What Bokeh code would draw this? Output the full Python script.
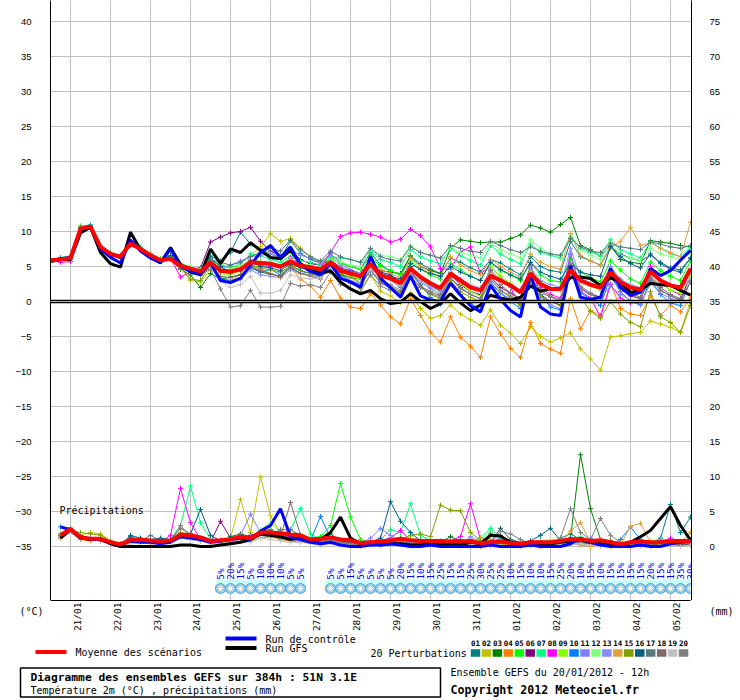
import math
from bokeh.plotting import figure
from bokeh.models import Range1d, LinearAxis, FixedTicker, Span, Label
from bokeh.layouts import column
from bokeh.embed import file_html
from bokeh.resources import INLINE
from bokeh.core.properties import value

# ---------------- data ----------------
STEP_HOURS = list(range(0, 385, 6))      # 20/01 12h + 0..384h
PRECIP_HOURS = STEP_HOURS[1:]

DATE_LABELS = ["21/01", "22/01", "23/01", "24/01", "25/01", "26/01", "27/01", "28/01",
               "29/01", "30/01", "31/01", "01/02", "02/02", "03/02", "04/02", "05/02"]
DATE_HOURS = [12, 36, 60, 84, 108, 132, 156, 180, 204, 228, 252, 276, 300, 324, 348, 372]
TEMP_TICKS = [-35, -30, -25, -20, -15, -10, -5, 0, 5, 10, 15, 20, 25, 30, 35, 40]
MM_TICKS = [0, 5, 10, 15, 20, 25, 30, 35, 40, 45, 50, 55, 60, 65, 70, 75]

# ensemble mean / control / GFS temperature (°C)
MEAN_T = [5.9,6.0,6.2,10.4,10.7,7.8,6.8,6.4,8.3,7.5,6.6,5.9,6.1,5.1,4.7,4.3,5.6,4.4,4.3,4.6,5.6,5.5,5.4,5.0,5.7,
          5.1,4.9,4.6,5.6,4.4,4.0,3.6,5.4,3.7,3.3,2.6,4.7,3.5,2.6,1.9,4.0,3.0,2.0,1.6,3.7,3.0,2.3,1.3,4.0,
          2.5,1.8,1.8,4.5,3.0,2.4,2.0,4.2,2.8,2.0,1.7,4.3,3.0,2.3,2.0,4.7]
CTRL_T = [5.8,6.1,6.3,10.2,10.8,7.5,6.3,5.5,8.8,7.2,6.2,5.6,7.5,5.0,4.3,3.9,5.5,3.0,2.7,3.3,5.2,7.0,8.0,6.3,7.8,
          5.2,4.3,3.8,5.5,3.3,2.8,2.0,6.5,3.3,2.0,0.6,3.6,0.8,0.2,0.0,2.6,0.9,-0.6,-1.5,2.3,0.3,-1.3,-2.2,4.0,
          -0.8,-1.8,-2.0,5.1,0.6,0.3,0.6,4.7,2.0,0.9,1.3,4.7,3.7,4.4,5.9,7.3]
GFS_T = [5.7,6.0,6.0,9.8,10.6,7.0,5.4,4.9,9.9,7.4,6.3,5.5,7.7,5.3,4.2,3.8,7.5,5.4,7.5,7.0,8.4,7.3,6.3,6.1,7.3,
         5.4,4.5,4.0,4.4,2.8,1.8,1.1,1.6,0.4,-0.3,-0.1,1.1,0.0,-1.0,-0.3,1.1,-0.2,-1.3,-0.5,0.9,0.5,0.2,0.6,2.2,
         1.5,1.8,1.9,3.4,3.5,3.3,2.3,3.4,2.7,1.3,1.6,2.6,2.4,2.3,1.6,0.9]

# 20 perturbations, temperature (°C)
T01 = [5.8,6.2,6.4,10.4,10.9,7.9,6.8,6.5,8.6,7.4,6.5,6.0,6.4,
       5.3,4.9,4.5,6.5,5.8,7.0,9.9,8.2,7.5,6.8,6.2,8.7,
       6.9,6.0,5.5,6.8,5.6,5.0,4.6,7.0,5.2,4.4,3.8,6.5,
       5.4,4.6,4.0,6.2,5.6,4.8,4.2,6.0,5.5,4.6,3.8,6.4,
       5.0,4.4,4.2,8.6,6.4,5.8,5.2,7.8,6.8,6.2,5.8,6.6,5.6,4.8,4.5,6.2]
T02 = [6.0,6.2,6.0,10.6,10.5,7.6,6.6,6.2,8.0,7.6,6.8,6.1,6.0,
       4.8,3.0,2.8,4.6,3.4,3.0,3.8,6.5,7.8,9.7,8.6,9.0,
       7.6,6.4,5.6,6.2,3.6,2.6,1.8,3.8,1.5,0.8,-0.2,1.2,
       -1.0,-2.4,-2.0,-0.5,-1.8,-2.6,-3.4,-1.2,-3.4,-4.5,-6.0,-3.6,
       -5.0,-5.8,-5.2,-4.5,-6.8,-8.2,-9.8,-5.1,-4.9,-4.6,-4.4,-2.8,-3.2,-3.7,-4.4,0.1]
T03 = [5.7,6.0,6.2,10.3,10.6,7.7,6.9,6.6,8.2,7.3,6.4,5.7,6.0,
       4.6,3.8,2.0,4.0,3.2,3.5,3.8,5.0,4.2,3.9,3.6,5.2,
       4.4,4.0,3.6,5.0,3.8,3.4,3.2,5.2,4.4,4.2,4.0,6.5,
       5.0,4.4,4.0,7.6,8.8,8.6,8.4,8.5,8.5,9.0,9.5,10.9,
       10.5,9.9,11.0,12.0,8.0,7.4,6.5,8.0,6.0,5.6,5.4,8.7,8.5,8.3,8.0,7.8]
T04 = [6.0,6.1,6.4,10.6,10.9,7.9,6.7,6.3,8.4,7.6,6.7,6.0,6.2,
       5.0,4.5,4.0,5.4,4.2,4.0,4.3,5.2,4.6,4.0,3.4,4.9,
       3.2,2.2,0.6,3.0,0.5,-0.8,-1.0,1.1,-0.5,-2.2,-3.2,0.4,
       -2.0,-4.4,-5.8,-2.2,-5.1,-6.4,-8.0,-2.2,-4.6,-6.7,-8.0,-3.0,
       -6.0,-6.8,-7.4,0.4,-3.9,-1.3,-2.0,2.6,-1.0,-1.8,-2.0,0.8,-2.0,-0.5,-1.5,0.5]
T05 = [5.9,6.2,6.3,10.8,10.9,8.0,7.0,6.5,8.5,7.7,6.8,6.1,6.3,
       5.4,4.9,4.5,5.9,5.2,4.9,5.0,6.0,5.7,5.6,5.2,6.1,
       5.4,5.0,4.6,6.2,5.4,5.0,4.6,6.4,5.0,4.4,3.8,5.8,
       4.6,3.8,3.2,5.4,4.5,3.6,3.0,5.6,4.4,3.8,3.0,5.6,
       3.8,3.0,2.8,6.0,4.2,3.4,2.8,5.8,4.5,3.2,2.6,5.6,4.4,3.6,3.0,5.8]
T06 = [5.8,6.0,6.1,10.2,10.6,7.7,6.6,6.2,8.1,7.4,6.5,5.8,6.0,
       5.0,4.6,4.8,8.5,9.2,9.8,10.0,10.6,8.6,7.2,6.5,7.4,
       6.0,5.4,5.2,6.0,4.8,4.4,4.0,6.0,4.2,3.8,2.8,5.0,
       3.4,2.2,1.5,3.8,2.4,1.4,1.0,3.5,2.0,1.2,0.3,5.2,
       1.0,0.0,-0.5,6.8,1.8,1.0,0.6,4.0,2.0,0.8,0.4,3.5,1.6,0.8,0.2,3.8]
T07 = [5.9,6.3,6.5,10.6,11.0,8.0,6.9,6.5,8.4,7.8,6.8,6.0,6.3,
       5.4,5.0,4.6,6.0,5.0,4.8,5.4,6.8,6.5,6.0,5.6,6.5,
       5.8,5.6,5.2,6.4,6.2,6.0,5.6,7.2,6.0,5.6,5.0,7.4,
       6.4,5.8,5.4,7.6,6.6,5.8,5.2,8.0,6.8,6.0,5.4,8.2,
       7.0,6.6,6.2,9.2,7.6,7.0,6.6,8.8,7.4,6.8,6.2,8.6,7.6,6.8,6.4,7.8]
T08 = [6.0,5.6,5.7,10.5,10.8,7.9,6.8,6.3,8.4,7.6,6.6,5.8,6.2,
       3.5,4.2,4.5,5.8,4.6,4.0,4.4,5.5,5.2,5.0,4.8,6.2,
       5.4,5.0,4.8,7.0,9.3,9.8,9.9,9.6,9.2,8.5,8.9,10.3,
       9.4,7.8,4.7,4.6,7.1,7.8,4.0,5.0,3.5,2.0,-0.6,4.8,
       2.0,1.0,0.5,5.0,1.5,0.5,-2.2,2.4,0.5,-0.2,0.0,5.0,2.8,1.6,1.0,4.5]
T09 = [5.8,6.1,6.3,10.5,10.7,7.8,6.8,6.4,8.2,7.5,6.7,6.0,6.1,
       5.2,4.5,4.0,5.5,4.0,3.8,4.5,5.2,5.0,5.3,4.9,5.5,
       5.0,4.8,4.2,5.8,4.2,3.6,3.2,5.6,3.6,3.2,2.2,4.8,
       3.0,2.0,1.2,4.2,2.6,1.4,0.8,5.0,3.6,2.6,1.6,4.4,
       2.8,2.0,1.5,4.6,3.0,2.2,1.6,4.8,3.2,2.0,1.4,4.6,2.8,1.6,1.2,3.6]
T10 = [6.0,6.2,6.4,10.4,10.7,7.6,6.5,6.2,8.0,7.3,6.4,5.7,6.0,
       4.9,4.2,3.8,5.0,3.2,3.0,3.4,4.8,4.2,4.6,3.8,5.0,
       4.0,4.2,3.6,5.6,3.8,3.0,2.4,4.4,2.8,1.8,0.8,4.0,
       2.4,0.6,-0.4,3.0,1.0,-0.2,-1.2,2.8,1.2,0.0,-1.0,3.6,
       1.0,-0.8,-1.2,4.0,1.2,0.4,-0.6,3.6,1.4,0.0,-0.5,3.2,1.0,-0.2,-0.6,3.0]
T11 = [5.9,6.0,6.2,10.6,10.9,7.9,6.9,6.5,8.3,7.6,6.6,5.9,6.2,
       5.1,4.8,4.4,5.4,4.8,5.2,5.8,6.4,6.6,6.8,6.4,7.4,
       6.6,6.2,5.6,6.6,5.2,4.6,4.0,5.8,3.8,3.0,2.0,4.2,
       2.8,1.8,1.0,3.4,2.0,1.0,0.4,2.6,1.2,0.4,-0.6,2.8,
       0.6,-0.5,-1.0,6.8,2.0,1.0,0.4,2.2,1.0,0.2,-0.4,2.6,1.2,0.4,0.0,2.8]
T12 = [6.0,6.2,6.3,10.5,10.8,7.8,6.7,6.4,8.3,7.5,6.7,6.0,6.2,
       5.3,5.0,4.6,5.8,4.8,4.4,5.0,5.8,5.6,5.4,5.2,6.0,
       5.4,5.2,4.8,6.0,5.6,5.2,5.0,7.6,6.6,6.4,6.0,8.0,
       7.0,6.6,6.2,7.8,7.0,6.6,6.2,8.4,7.4,6.8,6.2,8.8,
       7.6,6.8,6.4,9.6,7.4,6.6,6.0,8.4,6.6,6.2,5.8,7.6,6.8,6.4,6.0,7.0]
T13 = [5.9,6.1,6.2,10.4,10.6,7.7,6.7,6.3,8.2,7.4,6.5,5.8,6.0,
       5.0,4.4,4.0,5.2,3.0,2.8,3.2,4.5,3.8,3.6,3.4,4.5,
       4.0,3.8,3.4,5.0,3.4,3.0,2.6,4.8,3.2,2.4,1.6,4.0,
       3.0,2.2,1.6,4.2,3.2,2.4,1.8,4.6,3.0,2.0,1.4,4.8,
       3.0,2.4,2.0,7.6,3.4,2.6,2.0,5.0,3.2,2.4,2.0,4.6,3.0,2.4,2.0,4.4]
T14 = [5.9,6.0,6.2,10.6,10.8,7.9,6.8,6.4,8.4,7.6,6.7,6.0,6.2,
       5.2,4.6,4.2,5.6,4.6,4.4,4.8,6.0,5.6,5.2,4.8,5.8,
       5.2,4.8,4.4,5.4,4.4,4.0,3.8,5.8,4.6,4.0,3.4,6.2,
       5.0,4.2,3.6,6.4,5.2,4.4,3.8,6.0,5.0,4.2,3.4,6.8,
       5.6,5.0,4.6,9.7,6.6,5.8,5.2,7.6,8.6,10.6,8.0,8.4,7.6,7.0,6.4,11.3]
T15 = [5.8,6.0,6.1,10.3,10.6,7.7,6.7,6.3,8.2,7.4,6.5,5.8,6.0,
       4.8,3.2,3.0,5.2,4.2,4.0,4.4,5.2,4.8,4.5,4.2,5.0,
       4.4,4.0,3.6,5.2,4.0,3.4,2.8,5.0,3.0,2.2,1.4,3.6,
       2.0,1.0,0.4,3.0,1.4,0.6,0.0,3.2,1.6,0.6,-0.4,2.6,
       0.8,0.0,-0.6,4.4,0.6,-1.4,-2.4,0.0,-1.8,-3.0,-3.6,1.4,-2.2,-3.0,-4.4,-0.6]
T16 = [5.9,6.1,6.3,10.5,10.7,7.8,6.8,6.4,8.6,7.5,6.6,5.9,6.6,
       5.2,4.6,4.2,6.2,5.0,4.2,4.5,5.8,5.0,4.8,4.4,5.4,
       4.8,4.6,4.2,5.6,4.4,4.0,3.6,5.2,4.0,3.6,3.2,5.4,
       4.6,4.0,3.6,5.0,4.2,3.6,3.0,5.6,4.6,3.8,3.2,5.6,
       4.2,3.6,3.2,5.4,4.2,3.8,3.6,7.8,6.4,5.4,4.8,6.8,5.4,4.6,4.2,6.2]
T17 = [6.0,6.2,6.3,10.6,10.8,7.8,6.8,6.5,8.3,7.6,6.6,5.9,6.1,
       5.0,4.6,4.2,6.0,5.6,5.2,5.6,6.4,7.0,7.6,7.2,8.8,
       7.4,6.4,5.8,7.2,6.4,6.0,5.6,7.6,6.4,6.0,5.8,7.8,
       7.0,6.6,6.2,8.0,7.6,7.2,7.0,8.6,8.0,7.4,7.0,7.8,
       7.2,6.8,6.6,9.0,7.8,7.2,7.0,8.3,7.8,7.6,7.4,8.5,8.2,7.8,7.6,8.0]
T18 = [5.8,6.0,6.2,10.4,10.6,7.6,6.6,6.2,8.1,7.4,6.5,5.8,6.0,
       4.9,4.3,3.9,5.0,3.6,3.4,3.8,5.0,4.4,4.0,3.6,4.8,
       4.0,3.6,3.2,5.0,3.2,2.6,2.2,4.6,2.6,2.0,1.2,4.6,
       2.2,1.4,0.8,3.4,2.0,1.0,0.4,4.4,2.4,1.2,0.4,3.0,
       1.4,0.6,0.2,5.4,2.2,1.2,0.6,4.0,2.2,1.2,0.6,3.8,2.0,1.0,0.4,2.8]
T19 = [5.9,6.0,6.2,10.4,10.6,7.7,6.7,6.3,8.2,7.4,6.5,5.8,6.0,
       4.9,4.4,4.0,5.0,3.0,2.0,2.4,3.6,1.2,1.2,1.6,3.8,
       3.4,3.2,3.4,4.6,3.2,3.0,2.8,4.6,3.4,3.0,2.6,4.4,
       3.2,2.6,2.2,4.0,3.0,2.4,2.0,3.6,2.8,2.2,1.8,3.8,
       2.6,2.0,1.6,4.0,2.6,2.2,1.8,3.8,2.6,2.2,1.8,3.6,2.6,2.2,1.8,3.2]
T20 = [5.8,6.0,6.1,10.5,10.8,7.8,6.7,6.3,8.2,7.5,6.6,5.9,6.1,
       4.8,4.2,3.8,4.6,1.8,-0.8,-0.6,1.6,-0.8,-0.8,-0.7,2.6,
       2.2,2.4,2.0,4.2,2.4,1.8,1.4,3.8,2.2,1.6,1.0,3.6,
       2.0,1.2,0.6,3.4,1.8,1.0,0.4,3.2,1.6,0.8,0.2,3.4,
       1.6,0.8,0.2,5.4,1.8,1.0,0.4,3.6,1.8,1.0,0.4,3.4,1.6,0.8,0.2,2.8]

# precipitation (mm / 6h), from +6h to +384h
MEAN_P = [1.6,2.5,1.3,1.1,1.1,0.6,0.3,0.95,0.95,0.86,0.8,0.86,1.7,1.6,1.3,0.8,
          0.9,1.05,1.4,1.2,2.0,2.0,1.9,1.7,1.6,1.0,1.1,1.3,1.0,0.9,0.5,0.6,
          0.7,0.86,1.1,0.9,0.8,0.8,0.8,0.7,0.8,0.7,0.5,0.6,0.7,0.5,0.4,0.6,
          0.6,0.6,0.8,1.05,1.05,0.8,0.9,0.6,0.3,0.6,0.7,0.6,0.6,0.8,0.8,0.8]
CTRL_P = [2.8,2.4,1.4,1.0,1.0,0.6,0.2,0.8,0.6,0.6,0.4,0.6,1.4,1.2,1.0,0.6,
          0.8,1.0,1.2,1.0,2.2,3.0,5.4,1.4,1.0,0.6,0.4,0.6,0.2,0.0,0.0,0.2,
          0.2,0.4,0.2,0.0,0.0,0.2,0.0,0.0,0.0,0.0,0.0,0.2,0.0,0.0,0.0,0.2,
          0.0,0.0,0.0,0.4,1.2,0.6,0.2,0.0,0.0,0.0,0.2,0.0,0.0,0.4,0.6,0.8]
GFS_P = [1.2,2.4,1.2,1.0,1.0,0.4,0.0,0.0,0.0,0.0,0.0,0.0,0.2,0.2,0.0,0.0,
         0.2,0.4,0.6,1.0,1.8,1.6,1.4,1.0,1.2,0.8,1.0,2.0,4.2,1.2,0.4,0.6,
         0.2,0.4,0.4,0.2,0.2,0.4,0.2,0.4,0.2,0.6,0.4,1.6,1.5,0.6,0.4,0.2,
         0.2,0.4,0.6,0.8,1.0,0.6,0.4,0.2,0.0,0.6,1.4,2.3,4.0,5.7,3.0,0.9]

P01 = [1.5,2.4,1.2,1.0,1.2,0.5,0.2,1.4,0.9,0.8,0.6,0.8,1.5,1.2,1.0,0.6,
       0.8,1.0,1.2,1.0,1.8,1.6,2.0,1.4,1.2,0.8,0.6,1.0,0.8,0.4,0.2,0.4,
       0.4,0.6,0.8,0.6,0.4,0.6,0.4,0.6,0.4,0.8,0.6,0.4,0.6,0.2,0.4,0.6,
       0.8,0.4,1.2,1.8,1.0,0.6,0.4,0.8,0.2,0.4,0.6,0.4,1.2,6.0,2.0,4.2]
P02 = [1.8,2.6,1.6,2.0,1.8,0.8,0.2,0.6,0.6,0.8,0.6,0.8,2.0,1.8,1.2,0.6,
       0.8,1.2,6.7,2.0,9.9,4.4,1.8,1.0,0.8,0.4,0.6,1.0,0.6,0.8,0.4,0.2,
       0.6,0.6,0.8,0.4,0.2,0.4,0.6,0.2,0.4,0.6,0.2,0.2,0.4,0.2,0.0,0.2,
       0.2,0.4,0.2,0.6,0.8,0.4,0.2,0.0,0.0,0.4,0.2,0.0,0.2,0.4,0.0,0.2]
P03 = [1.4,2.2,1.2,1.0,0.8,0.6,0.2,0.6,0.8,0.8,0.4,0.6,1.4,1.4,0.8,0.6,
       0.6,1.4,1.8,1.4,2.2,2.4,1.6,1.2,1.6,1.0,0.6,1.8,0.8,0.4,0.2,0.4,
       0.6,1.0,1.2,0.8,1.0,0.8,0.6,1.4,0.8,0.6,1.2,0.6,0.8,0.4,0.2,0.2,
       0.4,0.6,0.8,1.2,13.1,5.4,1.0,0.8,0.4,0.2,0.6,0.4,0.2,0.4,0.6,0.8]
P04 = [1.2,2.0,1.0,0.8,1.0,0.4,0.2,0.4,0.6,0.4,0.6,0.8,1.2,1.0,0.8,0.6,
       0.8,0.6,1.0,0.8,1.2,1.4,1.0,0.8,0.6,0.6,0.4,0.8,0.4,0.2,0.0,0.2,
       0.2,0.4,0.4,0.2,0.2,0.4,0.2,0.2,0.0,0.2,0.0,0.2,0.2,0.0,0.0,0.2,
       0.0,0.0,0.2,0.4,0.2,0.0,0.2,0.4,0.0,0.0,0.2,0.0,0.2,0.2,0.0,0.4]
P05 = [1.6,2.4,1.4,1.2,1.0,0.6,0.4,0.8,1.0,0.6,0.8,1.0,1.8,1.4,1.2,0.8,
       1.0,1.2,1.4,1.2,2.0,2.2,1.6,1.8,1.4,1.2,1.4,3.0,9.0,4.2,1.0,0.6,
       0.8,1.2,1.0,0.6,0.8,0.6,0.4,0.6,0.8,0.6,0.4,0.8,0.6,0.4,0.2,0.6,
       0.6,0.4,0.6,1.2,0.8,0.6,1.0,0.6,0.4,0.2,0.6,0.4,0.6,0.8,0.4,0.6]
P06 = [1.4,2.2,1.2,1.2,1.0,0.6,0.2,0.8,0.8,0.6,0.6,0.8,1.6,1.4,1.0,0.6,
       3.6,1.2,1.0,1.6,2.0,1.8,1.4,1.2,1.4,0.8,0.8,1.0,0.6,0.4,0.2,0.4,
       0.4,0.6,0.6,0.4,0.4,0.6,0.8,0.4,0.6,1.0,0.6,0.4,0.4,0.2,0.4,0.6,
       0.4,0.6,0.4,0.8,0.6,0.4,0.2,0.6,0.4,0.2,0.4,0.2,0.4,0.6,0.2,0.4]
P07 = [1.8,2.6,1.4,1.2,1.2,0.6,0.4,1.0,1.0,0.8,0.8,1.0,3.0,8.6,3.4,1.0,
       0.8,1.0,1.2,1.4,2.2,2.0,1.8,2.4,5.4,1.8,1.0,1.4,0.8,0.6,0.4,0.8,
       1.0,2.4,2.0,6.1,1.6,0.8,0.6,0.8,0.4,0.8,1.2,2.6,1.0,0.6,0.4,0.6,
       0.8,0.6,0.8,1.0,1.2,0.8,0.4,0.6,0.4,0.2,0.4,0.6,1.0,0.8,0.6,0.8]
P08 = [1.6,2.4,1.4,1.0,1.2,0.6,0.2,0.8,1.0,0.8,0.6,1.6,8.3,3.4,1.0,0.6,
       0.8,1.0,1.6,1.2,1.8,2.0,1.6,1.4,1.2,0.8,1.0,0.8,0.6,0.4,0.4,0.6,
       0.8,1.2,2.3,0.8,0.6,0.8,0.6,0.8,1.4,6.1,1.0,0.6,0.4,0.4,0.2,0.4,
       0.6,0.4,0.6,0.8,0.6,0.4,0.2,0.4,0.6,0.4,0.2,0.4,0.6,1.2,0.4,0.6]
P09 = [1.4,2.0,1.2,1.0,1.0,0.6,0.2,0.6,0.8,0.8,0.6,0.8,1.6,1.2,1.0,0.6,
       0.8,1.0,1.2,1.0,1.8,1.6,1.4,1.2,1.2,0.8,0.6,1.0,0.6,0.4,0.2,0.2,
       0.4,0.6,0.6,0.4,0.4,0.6,0.4,0.6,0.4,0.6,0.4,0.2,0.4,0.2,0.2,0.4,
       0.4,0.2,0.4,0.6,0.4,0.2,0.2,0.4,0.2,0.2,0.4,0.2,0.2,0.4,0.2,0.4]
P10 = [2.8,2.6,1.6,1.2,1.0,0.6,0.2,0.8,0.8,0.6,0.6,0.8,1.4,1.2,1.0,0.6,
       0.6,0.8,1.2,1.0,1.6,1.4,1.2,1.0,1.0,0.8,4.3,1.2,0.6,0.4,0.2,0.4,
       0.4,0.6,0.8,0.6,0.4,0.6,0.8,0.6,0.4,0.6,0.4,0.6,1.2,0.8,0.4,0.6,
       0.4,0.6,0.4,0.8,0.6,0.6,0.4,0.2,1.0,2.8,1.0,0.6,0.4,0.6,0.4,0.6]
P11 = [1.6,2.2,1.2,1.0,1.0,0.6,0.2,0.6,0.8,0.6,0.6,0.8,1.4,1.2,1.0,0.6,
       0.8,1.0,1.6,4.6,2.0,1.8,1.6,1.2,1.4,0.8,0.6,1.0,0.8,0.6,0.4,1.2,
       2.6,1.6,0.8,0.6,0.4,0.6,0.8,0.6,0.4,1.4,0.6,0.4,0.6,0.4,0.2,0.4,
       0.4,0.2,0.4,0.6,0.4,1.2,0.6,0.4,0.2,0.6,0.4,0.6,0.8,0.6,0.4,1.0]
P12 = [1.8,2.6,1.4,1.2,1.2,0.6,0.4,0.8,1.0,0.8,0.8,1.0,1.6,1.4,1.2,0.8,
       1.0,1.2,1.4,1.2,2.4,3.4,2.0,1.6,1.4,1.0,0.8,1.2,0.8,0.6,0.4,0.6,
       0.6,0.8,1.0,1.4,0.8,0.6,0.8,0.6,0.8,0.6,1.0,2.0,0.8,0.6,0.4,0.6,
       0.8,1.0,0.8,1.2,1.4,1.0,0.6,0.4,0.6,0.4,0.6,0.8,0.6,0.4,0.6,0.8]
P13 = [1.4,2.0,1.0,1.0,0.8,0.4,0.2,0.6,0.8,0.6,0.6,0.8,1.4,1.2,0.8,0.6,
       0.6,0.8,1.0,1.4,1.6,1.4,1.2,1.0,0.8,0.6,0.6,0.8,0.6,0.4,0.2,0.4,
       0.6,0.6,0.8,0.6,0.4,0.6,0.4,0.6,0.4,0.6,0.4,0.4,0.6,0.4,0.2,0.4,
       0.6,0.4,0.6,0.8,0.6,0.4,0.4,0.6,0.2,0.4,0.6,0.4,0.6,0.4,0.2,0.6]
P14 = [1.2,2.4,1.2,1.0,1.2,0.6,0.2,0.6,0.8,0.8,0.6,0.8,1.4,1.4,1.0,0.6,
       0.8,1.0,1.2,1.0,1.8,1.6,1.4,1.2,1.2,0.8,0.6,1.0,0.6,0.4,0.2,0.4,
       0.4,0.6,0.6,0.8,0.6,0.6,0.4,0.6,0.4,0.6,1.2,1.0,0.6,0.4,0.2,0.4,
       0.6,0.4,0.4,2.2,3.4,0.6,0.4,0.4,0.2,2.9,3.3,0.6,0.4,0.4,0.6,2.0]
P15 = [1.6,2.2,2.0,1.8,1.6,0.8,0.4,0.6,0.8,0.6,0.6,0.8,1.8,1.4,1.0,0.6,
       0.6,0.8,1.2,1.0,1.6,1.4,1.2,1.0,1.0,0.8,0.6,1.0,0.8,0.6,0.4,0.4,
       0.6,0.8,1.0,1.6,1.8,1.4,5.9,5.2,5.1,2.0,0.8,0.6,0.4,0.4,0.2,0.4,
       0.6,0.4,0.6,0.8,0.6,0.4,0.2,0.4,0.6,0.4,0.2,0.4,0.6,0.4,0.2,0.4]
P16 = [1.4,2.2,1.2,1.2,1.0,0.6,0.2,1.6,1.2,1.0,1.2,1.0,1.6,1.8,5.3,1.6,
       0.8,1.2,1.4,1.2,1.8,1.6,1.4,1.2,1.2,0.8,0.6,1.0,0.8,0.6,0.4,0.6,
       1.2,6.4,3.6,2.0,0.8,0.6,0.4,0.6,0.8,0.6,0.4,0.6,2.6,1.0,0.6,0.8,
       1.6,2.6,0.8,1.2,0.6,0.4,0.2,0.4,0.6,0.4,0.2,0.4,0.6,0.4,0.2,0.4]
P17 = [1.6,2.4,1.4,1.0,1.0,0.6,0.2,0.8,0.8,1.6,0.8,0.8,1.4,1.2,1.0,0.6,
       0.8,1.0,1.2,1.0,1.8,1.6,2.4,2.4,1.6,0.8,0.6,1.0,0.6,0.4,0.2,0.4,
       0.4,0.6,0.6,0.4,0.4,0.6,0.4,0.6,0.4,0.6,0.4,0.4,0.6,0.4,0.2,0.4,
       0.6,0.4,0.6,0.8,0.6,0.4,0.4,0.6,0.2,0.4,0.6,0.4,0.6,0.4,0.2,0.6]
P18 = [1.4,2.2,1.2,1.0,1.0,0.6,0.2,0.6,0.8,0.6,0.6,0.8,2.6,1.8,1.0,0.6,
       0.8,1.0,1.2,1.0,1.8,1.6,1.4,6.3,1.6,0.8,0.6,1.0,0.6,0.4,0.2,0.4,
       0.4,0.6,0.6,0.4,0.4,0.6,0.4,0.6,0.4,0.6,0.4,1.8,1.6,0.8,0.4,0.4,
       0.6,0.4,0.6,0.8,0.6,0.4,0.4,0.6,0.2,0.4,0.6,0.4,0.6,0.4,0.2,0.6]
P19 = [1.4,2.0,1.2,1.0,0.8,0.4,0.2,0.4,0.6,0.4,0.4,0.6,1.2,1.0,0.8,0.4,
       0.4,0.6,0.8,0.6,1.2,1.0,0.8,0.6,0.6,0.4,0.2,0.4,0.2,0.2,0.0,0.2,
       0.2,0.2,0.4,0.2,0.2,0.4,0.2,0.2,0.0,0.2,0.2,0.0,0.2,0.0,0.0,0.2,
       0.2,0.0,0.2,0.2,0.4,0.2,0.0,0.2,0.0,0.2,0.2,0.0,0.2,0.2,0.0,0.2]
P20 = [1.6,2.6,1.4,1.2,1.0,0.6,0.2,0.8,0.8,0.6,0.6,0.8,3.0,1.4,1.0,0.6,
       0.8,1.0,1.2,1.0,1.8,1.6,1.4,1.2,1.2,0.8,0.6,1.0,0.6,0.4,0.2,0.4,
       0.4,0.6,0.6,0.4,0.4,0.6,0.4,0.6,0.4,0.6,0.4,0.4,2.2,1.8,1.0,0.4,
       0.6,0.4,1.2,5.4,2.0,1.0,4.0,1.6,0.6,0.4,0.6,0.4,0.6,0.4,0.6,1.0]

PERT_NUMBERS = ["01", "02", "03", "04", "05", "06", "07", "08", "09", "10",
                "11", "12", "13", "14", "15", "16", "17", "18", "19", "20"]
PERT_COLORS = ["#008080", "#c0c000", "#008000", "#ff8000", "#00ff00", "#800080", "#00ff80",
               "#ff00ff", "#80ff00", "#0080ff", "#8080ff", "#80ff80", "#8a8aff", "#e0a040",
               "#80a000", "#006080", "#587880", "#806868", "#c0c0c0", "#808080"]
PERT_T = [T01, T02, T03, T04, T05, T06, T07, T08, T09, T10,
          T11, T12, T13, T14, T15, T16, T17, T18, T19, T20]
PERT_P = [P01, P02, P03, P04, P05, P06, P07, P08, P09, P10,
          P11, P12, P13, P14, P15, P16, P17, P18, P19, P20]

# probability of snow (%) per 6h step
SNOW_HOURS = [102, 108, 114, 120, 126, 132, 138, 144, 150,
              168, 174, 180, 186, 192, 198, 204, 210, 216, 222, 228, 234, 240, 246, 252, 258,
              264, 270, 276, 282, 288, 294, 300, 306, 312, 318, 324, 330, 336, 342, 348, 354,
              360, 366, 372, 378, 384]
SNOW_PCT = [5, 20, 15, 5, 10, 10, 10, 5, 5,
            5, 5, 15, 5, 5, 5, 5, 20, 15, 10, 15, 25, 15, 15, 25, 30, 25, 25, 10, 15, 10, 10,
            15, 25, 20, 10, 15, 10, 15, 15, 15, 15, 20, 15, 15, 35, 30]

MONO = "DejaVu Sans Mono"
PAGE_W = 736
FRAME_L = 50
FRAME_R_BORDER = 45


def bare_axis(ax, standoff, font, size):
    ax.major_tick_out = 0
    ax.major_tick_in = 0
    ax.minor_tick_out = 0
    ax.minor_tick_in = 0
    ax.major_label_standoff = standoff
    ax.major_label_text_font = font
    ax.major_label_text_font_size = size
    ax.major_label_text_color = "black"


x_rng = Range1d(0, 384.6)

# ---------------- main chart (frame only + y axes) ----------------
p = figure(width=PAGE_W, height=600, x_range=x_rng, y_range=Range1d(-42.714, 43.0),
           output_backend="svg", toolbar_location=None, x_axis_location=None,
           min_border_left=FRAME_L, min_border_right=FRAME_R_BORDER,
           min_border_top=0, min_border_bottom=0)
p.frame_align = False
p.outline_line_color = None
p.extra_y_ranges = {"mm": Range1d(-7.714, 78.0)}

ya = p.yaxis[0]
ya.ticker = FixedTicker(ticks=TEMP_TICKS)
ya.axis_line_color = "black"
bare_axis(ya, 19, "Liberation Sans", "9.5px")

ra = LinearAxis(y_range_name="mm", ticker=FixedTicker(ticks=MM_TICKS))
ra.axis_line_color = "black"
bare_axis(ra, 18, "Liberation Sans", "9.5px")
p.add_layout(ra, "right")

p.xgrid.ticker = FixedTicker(ticks=DATE_HOURS)
p.ygrid.ticker = FixedTicker(ticks=[t for t in TEMP_TICKS if t != 0])
p.grid.grid_line_color = "#c0c0c0"
p.grid.grid_line_width = 1

p.add_layout(Span(location=0, dimension="width", line_color="black", line_width=3.5))
p.add_layout(Span(location=0, dimension="width", line_color="#b0b0b0", line_width=1))

# snow strip
half = 3
n_snow = len(SNOW_HOURS)
p.quad(left=[h - half for h in SNOW_HOURS], right=[h + half for h in SNOW_HOURS],
       top=[-39.75] * n_snow, bottom=[-40.3] * n_snow, fill_color="#c8ffff", line_color=None)
p.quad(left=[h - half for h in SNOW_HOURS], right=[h + half for h in SNOW_HOURS],
       top=[-40.45] * n_snow, bottom=[-41.55] * n_snow, fill_color="#8ccff4", line_color=None)
p.scatter(SNOW_HOURS, [-41.0] * n_snow, marker="circle", size=10,
          fill_color="#8ccff4", line_color="#4aa6e6", line_width=1)
p.scatter(SNOW_HOURS, [-41.0] * n_snow, marker="asterisk", size=6,
          line_color="#ffffff", line_width=1)
p.text(SNOW_HOURS, [-39.75] * n_snow, text=[f"{v}%" for v in SNOW_PCT],
       angle=math.pi / 2, text_align="left", text_baseline="middle",
       text_color="#0000ff", text_font=value(MONO), text_font_size="9.5px")

# perturbations
for col, tv, pv in zip(PERT_COLORS, PERT_T, PERT_P):
    p.line(STEP_HOURS, tv, line_color=col, line_width=1)
    p.scatter(STEP_HOURS, tv, marker="cross", size=5, line_color=col, line_width=1)
    p.line(PRECIP_HOURS, pv, line_color=col, line_width=1, y_range_name="mm")
    p.scatter(PRECIP_HOURS, pv, marker="cross", size=5, line_color=col, line_width=1,
              y_range_name="mm")

# GFS, control, mean
p.line(STEP_HOURS, GFS_T, line_color="black", line_width=3)
p.line(PRECIP_HOURS, GFS_P, line_color="black", line_width=3, y_range_name="mm")
p.line(STEP_HOURS, CTRL_T, line_color="#0000ff", line_width=3)
p.line(PRECIP_HOURS, CTRL_P, line_color="#0000ff", line_width=3, y_range_name="mm")
p.line(STEP_HOURS, MEAN_T, line_color="#ff0000", line_width=4)
p.line(PRECIP_HOURS, MEAN_P, line_color="#ff0000", line_width=4, y_range_name="mm")

p.add_layout(Label(x=5.4, y=-29.9, text="Précipitations", text_baseline="middle",
                   text_font=MONO, text_font_size="10px", text_color="black"))

# ---------------- date axis strip (1px frame + axes) ----------------
q = figure(width=PAGE_W, height=34, x_range=x_rng, y_range=Range1d(-1, 1),
           output_backend="svg", toolbar_location=None,
           min_border_left=FRAME_L, min_border_right=FRAME_R_BORDER,
           min_border_top=0, min_border_bottom=33)
q.frame_align = False
q.outline_line_color = None
q.grid.visible = False

date_tick_pos = [h + 4 for h in DATE_HOURS]
xa = q.xaxis[0]
xa.ticker = FixedTicker(ticks=date_tick_pos)
xa.major_label_overrides = {t: lab for t, lab in zip(date_tick_pos, DATE_LABELS)}
xa.major_label_orientation = math.pi / 2
xa.axis_line_color = "black"
bare_axis(xa, 2, MONO, "9.5px")

qy = q.yaxis[0]
qy.ticker = FixedTicker(ticks=[0])
qy.major_label_overrides = {0: "(°C)"}
qy.axis_line_color = None
bare_axis(qy, 7, MONO, "10px")

qr = LinearAxis(ticker=FixedTicker(ticks=[0]))
qr.major_label_overrides = {0: "(mm)"}
qr.axis_line_color = None
bare_axis(qr, 19, MONO, "10px")
q.add_layout(qr, "right")

# ---------------- legend / caption strip (page pixel coordinates) ----------------
r = figure(width=PAGE_W, height=64, x_range=Range1d(0, PAGE_W), y_range=Range1d(698, 634),
           output_backend="svg", toolbar_location=None, min_border=0,
           x_axis_location=None, y_axis_location=None)
r.frame_align = False
r.outline_line_color = None
r.grid.visible = False

r.line([35, 66], [651.5, 651.5], line_color="#ff0000", line_width=4)
r.text([75], [652], text=["Moyenne des scénarios"], text_baseline="middle",
       text_font=value(MONO), text_font_size="10px")
r.line([225, 256], [638, 638], line_color="#0000ff", line_width=4)
r.text([265], [638.5], text=["Run de contrôle"], text_baseline="middle",
       text_font=value(MONO), text_font_size="10px")
r.line([225, 256], [647.5, 647.5], line_color="black", line_width=4)
r.text([265], [648], text=["Run GFS"], text_baseline="middle",
       text_font=value(MONO), text_font_size="10px")
r.text([370], [652.5], text=["20 Perturbations"], text_baseline="middle",
       text_font=value(MONO), text_font_size="10px")
sw_x = [475 + 10.95 * k for k in range(len(PERT_COLORS))]
r.rect(sw_x, [652.5] * len(sw_x), width=9.5, height=7.5, fill_color=PERT_COLORS, line_color=None)
r.text(sw_x, [642.5] * len(sw_x), text=PERT_NUMBERS, text_align="center", text_baseline="middle",
       text_font=value(MONO), text_font_style="bold", text_font_size="7.5px")

r.quad(left=[20], right=[440], top=[667.5], bottom=[696.5], fill_color=None,
       line_color="black", line_width=1.5)
r.text([30], [677], text=["Diagramme des ensembles GEFS sur 384h : 51N 3.1E"],
       text_baseline="middle", text_font=value(MONO), text_font_style="bold",
       text_font_size="11.3px")
r.text([30], [689.5], text=["Température 2m (°C) , précipitations (mm)"],
       text_baseline="middle", text_font=value(MONO), text_font_size="10px")
r.text([450], [672], text=["Ensemble GEFS du 20/01/2012 - 12h"],
       text_baseline="middle", text_font=value(MONO), text_font_size="10px")
r.text([450], [689.5], text=["Copyright 2012 Meteociel.fr"],
       text_baseline="middle", text_font=value(MONO), text_font_style="bold",
       text_font_size="11.6px")

layout = column(p, q, r, spacing=0)
open("out.html", "w").write(file_html(layout, INLINE))
